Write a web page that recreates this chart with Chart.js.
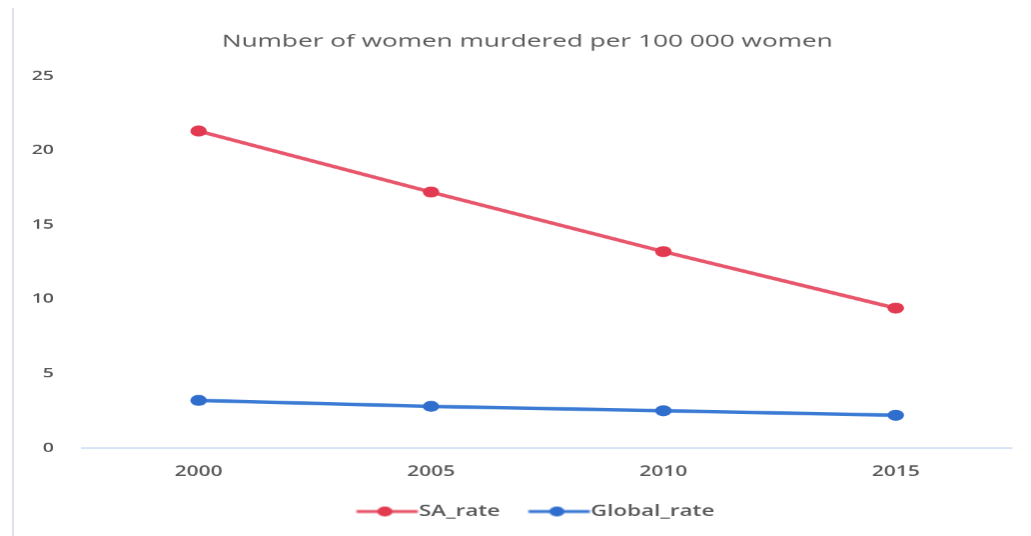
<!DOCTYPE html>
<html>
<head>
<meta charset="utf-8">
<script src="https://cdn.jsdelivr.net/npm/chart.js@4.4.1/dist/chart.umd.min.js"></script>
<style>
  html, body { margin: 0; padding: 0; background: #ffffff; overflow: hidden; }
  #stage { position: absolute; left: 0; top: 0; width: 688px; height: 536px; transform: scaleX(1.4985); transform-origin: 0 0; }
  #edge { position: absolute; left: 12px; top: 8px; width: 2px; height: 528px; background: #dfe2ec; }
</style>
</head>
<body>
<div id="edge"></div>
<div id="stage"><canvas id="c"></canvas></div>
<script>
const categories = ['2000', '2005', '2010', '2015'];
const saRate = [21.3, 17.2, 13.2, 9.4];
const globalRate = [3.2, 2.8, 2.5, 2.2];
const yTicks = [0, 5, 10, 15, 20, 25];
const titleText = 'Number of women murdered per 100 000 women';

function legendMarker(lineColor, dotColor) {
  const c = document.createElement('canvas');
  c.width = 80; c.height = 12;
  const g = c.getContext('2d');
  g.strokeStyle = lineColor; g.lineWidth = 3;
  g.beginPath(); g.moveTo(28.4, 6); g.lineTo(69.4, 6); g.stroke();
  g.fillStyle = dotColor;
  g.beginPath(); g.arc(47.4, 6, 5, 0, Math.PI * 2); g.fill();
  return c;
}

const series = [
  { label: 'SA_rate', data: saRate, line: '#e8566b', dot: '#e23a50' },
  { label: 'Global_rate', data: globalRate, line: '#3b7bd4', dot: '#2f6ecd' }
];
const markers = series.map(s => legendMarker(s.line, s.dot));

new Chart(document.getElementById('c'), {
  type: 'line',
  data: {
    labels: categories,
    datasets: series.map(s => ({
      label: s.label,
      data: s.data,
      yAxisID: 'y',
      borderColor: s.line,
      backgroundColor: s.dot,
      pointBackgroundColor: s.dot,
      pointBorderColor: s.dot,
      pointRadius: 5.5,
      pointBorderWidth: 0,
      pointStyle: 'circle',
      borderWidth: 3.5,
      tension: 0
    }))
  },
  options: {
    responsive: true,
    maintainAspectRatio: false,
    animation: false,
    devicePixelRatio: 1.5,
    layout: { padding: { left: 15.7, right: 0, top: 0, bottom: 7 } },
    plugins: {
      title: {
        display: true,
        text: titleText,
        color: '#595959',
        font: { family: 'Open Sans', size: 17.5, weight: '400' },
        padding: { top: 31, bottom: 24 }
      },
      legend: {
        position: 'bottom',
        labels: {
          usePointStyle: true,
          pointStyleWidth: 45,
          padding: 8,
          color: '#595959',
          font: { family: 'Open Sans', size: 15, weight: '600' },
          generateLabels(chart) {
            return chart.data.datasets.map((d, i) => ({
              text: d.label,
              fillStyle: d.pointBackgroundColor,
              strokeStyle: d.borderColor,
              fontColor: '#595959',
              pointStyle: markers[i],
              lineWidth: 0,
              datasetIndex: i,
              hidden: false
            }));
          }
        }
      },
      tooltip: { enabled: false }
    },
    scales: {
      x: {
        offset: true,
        grid: { display: false, drawTicks: false },
        border: { display: true, color: '#cddff3', width: 1.5 },
        ticks: {
          padding: 15.6,
          color: '#595959',
          font: { family: 'Open Sans', size: 14, weight: '600' }
        }
      },
      y: {
        min: 0,
        max: 25,
        afterFit(scale) { scale.width = 39.3; },
        afterBuildTicks(scale) { scale.ticks = yTicks.map(v => ({ value: v })); },
        grid: { display: false, drawTicks: false },
        border: { display: false },
        ticks: {
          padding: 19,
          color: '#595959',
          font: { family: 'Open Sans', size: 13, weight: '600' }
        }
      },
      yRight: {
        position: 'right',
        min: 0,
        max: 25,
        afterFit(scale) { scale.width = 12.7; },
        grid: { display: false, drawTicks: false },
        border: { display: false },
        ticks: { display: false }
      }
    }
  }
});
</script>
</body>
</html>
